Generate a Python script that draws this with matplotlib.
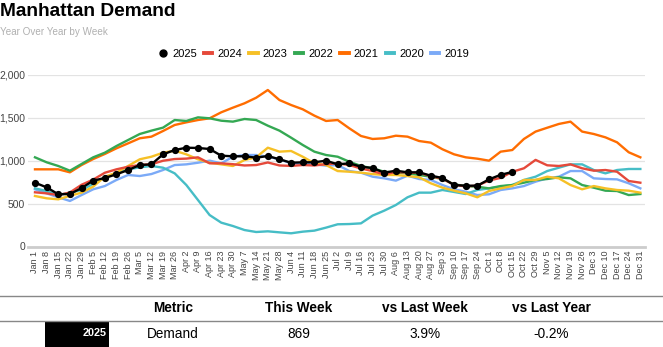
import numpy as np
import matplotlib.pyplot as plt
from matplotlib.lines import Line2D

plt.rcParams['font.family'] = ['Liberation Sans', 'DejaVu Sans']

weeks = ["Jan 1", "Jan 8", "Jan 15", "Jan 22", "Jan 29", "Feb 5", "Feb 12", "Feb 19", "Feb 26",
         "Mar 5", "Mar 12", "Mar 19", "Mar 26", "Apr 2", "Apr 9", "Apr 16", "Apr 23", "Apr 30",
         "May 7", "May 14", "May 21", "May 28", "Jun 4", "Jun 11", "Jun 18", "Jun 25",
         "Jul 2", "Jul 9", "Jul 16", "Jul 23", "Jul 30", "Aug 6", "Aug 13", "Aug 20", "Aug 27",
         "Sep 3", "Sep 10", "Sep 17", "Sep 24", "Oct 1", "Oct 8", "Oct 15", "Oct 22", "Oct 29",
         "Nov 5", "Nov 12", "Nov 19", "Nov 26", "Dec 3", "Dec 10", "Dec 17", "Dec 24", "Dec 31"]

d2025 = [744, 690, 609, 612, 682, 768, 799, 842, 892, 950, 958, 1075, 1125, 1152, 1149, 1137,
         1059, 1052, 1052, 1036, 1055, 1017, 977, 982, 982, 1001, 958, 970, 931, 915, 861, 884,
         865, 865, 826, 799, 717, 709, 709, 783, 836, 869]
d2024 = [632, 620, 600, 630, 720, 780, 860, 900, 930, 950, 960, 1000, 1020, 1025, 1040, 970,
         970, 960, 945, 950, 980, 945, 940, 950, 945, 960, 970, 950, 910, 880, 840, 870,
         860, 860, 820, 790, 720, 700, 710, 770, 800, 871, 912, 1010, 947, 939, 958, 912,
         884, 892, 872, 764, 744]
d2023 = [589, 562, 550, 592, 628, 698, 814, 861, 939, 1017, 1047, 1094, 1117, 1075, 1017, 977,
         958, 939, 1009, 1040, 1152, 1106, 1114, 1047, 970, 950, 880, 872, 861, 845, 834, 834,
         822, 807, 737, 686, 651, 620, 574, 647, 678, 705, 776, 776, 814, 795, 717, 667,
         705, 678, 659, 651, 628]
d2022 = [1040, 982, 939, 884, 962, 1040, 1094, 1172, 1242, 1312, 1351, 1386, 1475, 1464, 1506,
         1495, 1467, 1456, 1487, 1475, 1409, 1351, 1269, 1184, 1106, 1067, 1047, 989, 939, 912,
         872, 861, 853, 834, 814, 787, 725, 705, 697, 678, 705, 717, 744, 776, 787, 807,
         795, 717, 686, 651, 647, 600, 612]
d2021 = [900, 900, 900, 865, 950, 1020, 1079, 1145, 1203, 1262, 1281, 1347, 1417, 1448, 1475,
         1495, 1565, 1619, 1670, 1735, 1825, 1708, 1650, 1600, 1526, 1464, 1475, 1378, 1289,
         1254, 1262, 1292, 1281, 1230, 1211, 1134, 1075, 1040, 1024, 1001, 1106, 1125, 1254,
         1340, 1385, 1429, 1456, 1340, 1312, 1273, 1215, 1099, 1040]
d2020 = [678, 647, 600, 628, 659, 729, 807, 853, 900, 923, 939, 919, 853, 717, 542, 367, 278,
         239, 192, 169, 177, 165, 154, 173, 185, 220, 259, 262, 270, 360, 418, 484, 574, 628,
         628, 659, 636, 612, 659, 678, 698, 717, 776, 814, 880, 919, 958, 958, 892, 853,
         892, 904, 904]
d2019 = [667, 620, 574, 531, 600, 667, 705, 776, 834, 822, 845, 892, 950, 958, 977, 1001, 970,
         1047, 1067, 1067, 1047, 1017, 970, 962, 958, 943, 950, 880, 861, 814, 795, 768, 826,
         787, 776, 717, 667, 639, 600, 609, 659, 678, 705, 756, 795, 814, 880, 880, 795,
         787, 783, 737, 678]

series = [("2019", d2019, "#7baaf7"), ("2020", d2020, "#46bdc6"), ("2021", d2021, "#ff6d01"),
          ("2022", d2022, "#34a853"), ("2023", d2023, "#f6c026"), ("2024", d2024, "#e5493a")]

metric_cols = ["Metric", "This Week", "vs Last Week", "vs Last Year"]
metric_row = ["Demand", "869", "3.9%", "-0.2%"]

W, H = 663, 347
fig = plt.figure(figsize=(W / 100, H / 100), dpi=100)

def fx(px):
    return px / W

def fy(py):
    return 1 - py / H

fig.text(fx(0), fy(12), "Manhattan Demand", fontsize=13.8, fontweight='bold', va='center', ha='left')
fig.text(fx(0), fy(32), "Year Over Year by Week", fontsize=7.1, color='#b0b0b0', va='center', ha='left')

ax = fig.add_axes([fx(28), fy(246.5), fx(645) - fx(28), (246.5 - 75) / H])
x = np.arange(len(weeks))
for name, vals, col in series:
    ax.plot(x[:len(vals)], vals, color=col, lw=1.7, solid_joinstyle='round')
ax.plot(x[:len(d2025)], d2025, color='black', lw=1.7, marker='o', ms=4.2)

ax.set_xlim(-0.6, 52.4)
ax.set_ylim(0, 2000)
ax.set_yticks([0, 500, 1000, 1500, 2000])
ax.set_yticklabels(["0", "500", "1,000", "1,500", "2,000"])
ax.set_xticks(x)
ax.set_xticklabels(weeks, rotation=90)
ax.tick_params(axis='x', length=0, labelsize=6.5, labelcolor='#444444', pad=3)
ax.tick_params(axis='y', length=0, labelsize=7.5, labelcolor='#444444', pad=2)
ax.grid(axis='y', color='#e3e3e3', lw=0.9)
ax.set_axisbelow(True)
for s in ['top', 'right', 'left']:
    ax.spines[s].set_visible(False)
ax.spines['bottom'].set_color('#cccccc')
ax.spines['bottom'].set_linewidth(2)

handles = [Line2D([], [], color='black', marker='o', ls='none', ms=5)]
labels = ["2025"]
for name, vals, col in reversed(series):
    handles.append(Line2D([], [], color=col, lw=2.8))
    labels.append(name)
fig.legend(handles, labels, loc='center', bbox_to_anchor=(fx(314), fy(54)), ncol=7,
           frameon=False, fontsize=8, handlelength=0.75, handletextpad=0.45, columnspacing=0.65)

# summary table under the chart
fig.add_artist(Line2D([0, 1], [fy(296), fy(296)], color='#888888', lw=1))
fig.add_artist(Line2D([0, 1], [fy(321), fy(321)], color='#888888', lw=1))
col_x = [173, 299, 425, 551]
for cx, head, val in zip(col_x, metric_cols, metric_row):
    fig.text(fx(cx), fy(308.5), head, fontsize=9.8, fontweight='bold', ha='center', va='center')
    fig.text(fx(cx), fy(333.5), val, fontsize=9.8, ha='center', va='center')
fig.patches.append(plt.Rectangle((fx(45), 0), fx(109) - fx(45), fy(322), transform=fig.transFigure,
                                 facecolor='black', edgecolor='none'))
fig.text(fx(107), fy(333.5), "2025", fontsize=7.8, fontweight='bold', color='white', ha='right', va='center')

fig.savefig("out.png", dpi=100, facecolor='white')
